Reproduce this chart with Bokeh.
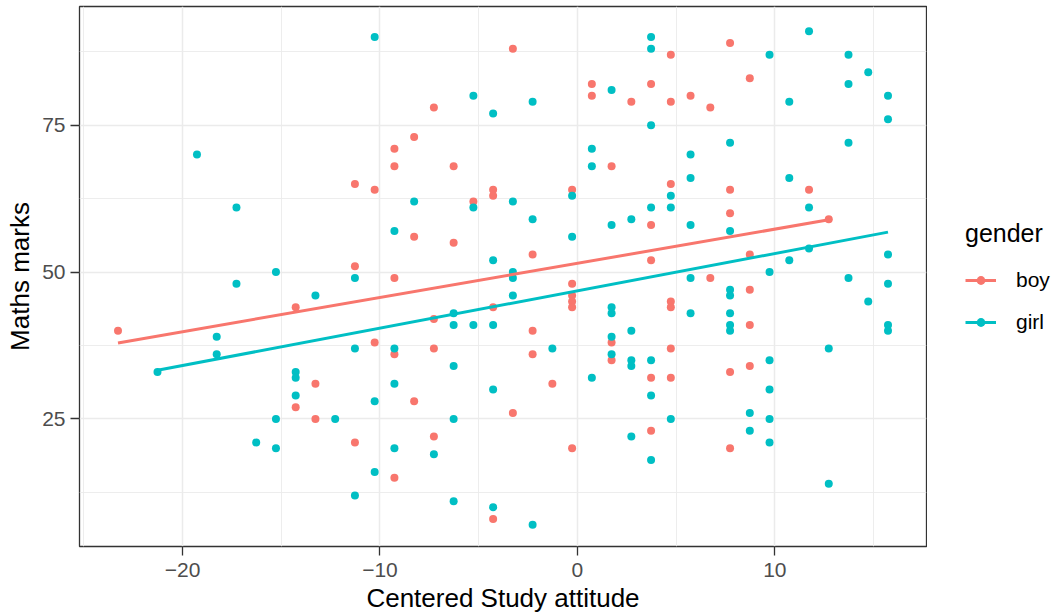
from bokeh.plotting import figure
from bokeh.layouts import row
from bokeh.models import Range1d, FixedTicker, Legend, LegendItem
from bokeh.embed import file_html
from bokeh.resources import INLINE

# ---- data ----
boy_att = [-23.27, -14.27, -14.27, -13.27, -13.27, -11.27, -11.27, -11.27,
           -10.27, -10.27, -9.27, -9.27, -9.27, -9.27, -9.27, -8.27, -8.27, -8.27,
           -7.27, -7.27, -7.27, -7.27, -6.27, -6.27, -5.27, -4.27, -4.27, -4.27, -4.27,
           -3.27, -3.27, -2.27, -2.27, -2.27, -1.27,
           -0.27, -0.27, -0.27, -0.27, -0.27, -0.27, 0.73, 0.73, 1.73, 1.73, 1.73, 2.73,
           3.73, 3.73, 3.73, 3.73, 3.73, 4.73, 4.73, 4.73, 4.73, 4.73, 4.73, 4.73,
           5.73, 6.73, 6.73, 7.73, 7.73, 7.73, 7.73, 7.73,
           8.73, 8.73, 8.73, 8.73, 8.73, 11.73, 12.73]
boy_marks = [40, 44, 27, 31, 25, 65, 51, 21,
             64, 38, 71, 68, 49, 36, 15, 73, 56, 28,
             78, 42, 37, 22, 68, 55, 62, 64, 63, 44, 8,
             88, 26, 53, 40, 36, 31,
             64, 48, 46, 45, 44, 20, 82, 80, 68, 38, 35, 79,
             82, 58, 52, 32, 23, 87, 79, 65, 45, 44, 37, 32,
             80, 78, 49, 89, 64, 60, 33, 20,
             83, 53, 47, 41, 34, 64, 59]

girl_att = [-21.27, -19.27, -18.27, -18.27, -17.27, -17.27, -16.27,
            -15.27, -15.27, -15.27, -14.27, -14.27, -14.27, -13.27, -12.27,
            -11.27, -11.27, -11.27, -10.27, -10.27, -10.27,
            -9.27, -9.27, -9.27, -9.27, -8.27, -7.27,
            -6.27, -6.27, -6.27, -6.27, -6.27, -5.27, -5.27, -5.27,
            -4.27, -4.27, -4.27, -4.27, -4.27, -3.27, -3.27, -3.27, -3.27,
            -2.27, -2.27, -2.27, -1.27, -0.27, -0.27, 0.73, 0.73, 0.73,
            1.73, 1.73, 1.73, 1.73, 1.73, 1.73, 2.73, 2.73, 2.73, 2.73, 2.73,
            3.73, 3.73, 3.73, 3.73, 3.73, 3.73, 3.73, 4.73, 4.73, 4.73,
            5.73, 5.73, 5.73, 5.73, 5.73,
            7.73, 7.73, 7.73, 7.73, 7.73, 7.73, 7.73, 8.73, 8.73,
            9.73, 9.73, 9.73, 9.73, 9.73, 9.73, 10.73, 10.73, 10.73,
            11.73, 11.73, 11.73, 12.73, 12.73, 13.73, 13.73, 13.73, 13.73,
            14.73, 14.73, 15.73, 15.73, 15.73, 15.73, 15.73, 15.73]
girl_marks = [33, 70, 39, 36, 61, 48, 21,
              50, 25, 20, 33, 32, 29, 46, 25,
              49, 37, 12, 90, 28, 16,
              57, 37, 31, 20, 62, 19,
              43, 41, 34, 25, 11, 80, 61, 41,
              77, 52, 41, 30, 10, 62, 50, 49, 46,
              79, 59, 7, 37, 63, 56, 71, 68, 32,
              81, 58, 44, 43, 39, 36, 59, 40, 35, 34, 22,
              90, 88, 75, 61, 35, 29, 18, 63, 61, 25,
              70, 66, 58, 49, 43,
              72, 57, 47, 46, 43, 41, 40, 26, 23,
              87, 50, 35, 30, 25, 21, 79, 66, 52,
              91, 61, 54, 37, 14, 87, 82, 72, 49,
              84, 45, 80, 76, 53, 48, 41, 40]

# fitted (lm) lines, end points
boy_fit_att = [-23.27, 12.73]
boy_fit_marks = [37.95, 58.9]
girl_fit_att = [-21.27, 15.73]
girl_fit_marks = [33.3, 56.8]

gender_labels = ["boy", "girl"]
x_ticks = [-20, -10, 0, 10]
x_minor = [-25, -15, -5, 5, 15]
y_ticks = [25, 50, 75]
y_minor = [12.5, 37.5, 62.5, 87.5]

BOY = "#F8766D"
GIRL = "#00BFC4"
FONT = "Liberation Sans"

p = figure(width=927, height=615, output_backend="svg", toolbar_location=None,
           x_range=Range1d(-25.22, 17.68), y_range=Range1d(3.3, 95.2),
           min_border_left=79, min_border_right=1, min_border_top=6,
           min_border_bottom=68,
           x_axis_label="Centered Study attitude", y_axis_label="Maths marks")
p.background_fill_color = "white"
p.border_fill_color = "white"
p.outline_line_color = "#333333"
p.outline_line_width = 1.3

for ax, ticks, minor in ((p.xaxis[0], x_ticks, x_minor), (p.yaxis[0], y_ticks, y_minor)):
    ax.ticker = FixedTicker(ticks=ticks, minor_ticks=minor)
    ax.axis_line_color = None
    ax.major_tick_line_color = "#333333"
    ax.major_tick_line_width = 1.3
    ax.major_tick_out = 9
    ax.major_tick_in = 0
    ax.minor_tick_line_color = None
    ax.major_label_text_font = FONT
    ax.major_label_text_font_size = "21px"
    ax.major_label_text_color = "#4D4D4D"
    ax.axis_label_text_font = FONT
    ax.axis_label_text_font_size = "26px"
    ax.axis_label_text_font_style = "normal"
    ax.axis_label_text_color = "black"
p.xaxis.major_label_standoff = 7
p.xaxis.axis_label_standoff = 3
p.yaxis.major_label_standoff = 5
p.yaxis.axis_label_standoff = 4

for g in (p.xgrid[0], p.ygrid[0]):
    g.grid_line_color = "#EBEBEB"
    g.grid_line_width = 1.5
    g.minor_grid_line_color = "#EBEBEB"
    g.minor_grid_line_width = 0.9

p.scatter(boy_att, boy_marks, size=8, color=BOY, line_color=None)
p.scatter(girl_att, girl_marks, size=8, color=GIRL, line_color=None)
p.line(boy_fit_att, boy_fit_marks, line_color=BOY, line_width=3)
p.line(girl_fit_att, girl_fit_marks, line_color=GIRL, line_width=3)

# ---- legend panel (separate figure to the right of the panel) ----
q = figure(width=124, height=615, output_backend="svg", toolbar_location=None,
           x_axis_type=None, y_axis_type=None,
           x_range=Range1d(0, 1), y_range=Range1d(0, 1),
           min_border_left=0, min_border_right=0, min_border_top=0, min_border_bottom=0)
q.outline_line_color = None
q.background_fill_color = "white"
q.border_fill_color = "white"
q.xgrid.visible = False
q.ygrid.visible = False
# key renderers: placed outside the visible range (only the legend keys show)
key_x = [5, 6]
key_y = [5, 6]
kb_line = q.line(key_x, key_y, line_color=BOY, line_width=3)
kb_pt = q.scatter(key_x[:1], key_y[:1], size=8, color=BOY, line_color=None)
kg_line = q.line(key_x, key_y, line_color=GIRL, line_width=3)
kg_pt = q.scatter(key_x[:1], key_y[:1], size=8, color=GIRL, line_color=None)

legend = Legend(items=[LegendItem(label=gender_labels[0], renderers=[kb_line, kb_pt]),
                       LegendItem(label=gender_labels[1], renderers=[kg_line, kg_pt])],
                title="gender", location=(38, 212), margin=0, padding=0,
                border_line_color=None, background_fill_alpha=0,
                glyph_width=31, glyph_height=22, spacing=18, label_standoff=20,
                title_standoff=20,
                title_text_font=FONT, title_text_font_size="25px",
                title_text_font_style="normal", title_text_color="black",
                label_text_font=FONT, label_text_font_size="21px",
                label_text_color="black")
q.add_layout(legend)

layout = row(p, q, spacing=0)
open("out.html", "w").write(file_html(layout, INLINE))
